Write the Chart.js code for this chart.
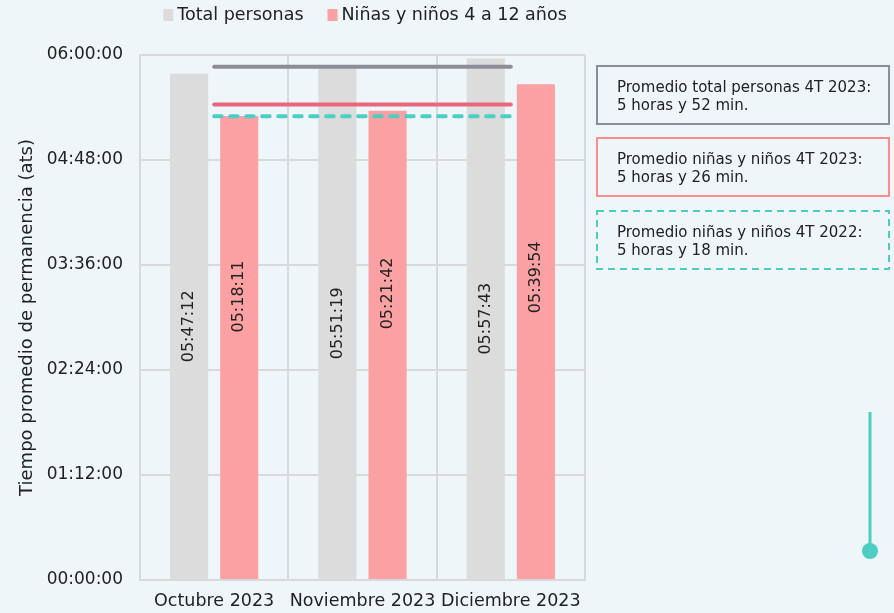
<!DOCTYPE html>
<html>
<head>
<meta charset="utf-8">
<script src="https://cdn.jsdelivr.net/npm/chart.js@4.4.1/dist/chart.umd.min.js"></script>
<style>
html, body { margin: 0; padding: 0; background: #eef6f9; }
#wrap { position: relative; width: 894px; height: 613px; }
</style>
</head>
<body>
<div id="wrap"><canvas id="chart_canvas" width="894" height="613"></canvas></div>
<script>
// ============================================================
// Data
// ============================================================
var categories = ["Octubre 2023", "Noviembre 2023", "Diciembre 2023"];
var seriesNames = ["Total personas", "Niñas y niños 4 a 12 años"];
var totalPersonas = ["05:47:12", "05:51:19", "05:57:43"];
var ninasNinos = ["05:18:11", "05:21:42", "05:39:54"];
var avgNames = ["Promedio total personas 4T 2023:", "Promedio niñas y niños 4T 2023:", "Promedio niñas y niños 4T 2022:"];
var avgValues = ["05:52:00", "05:26:00", "05:18:00"];
var avgTexts = ["5 horas y 52 min.", "5 horas y 26 min.", "5 horas y 18 min."];
var yTickLabels = ["00:00:00", "01:12:00", "02:24:00", "03:36:00", "04:48:00", "06:00:00"];

var FONT = "'DejaVu Sans', sans-serif";
var TEXT = "#222222";
var GRID = "#d9d9d9";
var cGray = "#dcdcdc", cPink = "#fba1a4";
var lineColors = ["#8d8d97", "#e8677a", "#4ecdc2"];
var boxColors = ["#8d8d97", "#ff8c8c", "#4ecdc2"];

function toSec(s) {
	var p = s.split(":");
	return (+p[0]) * 3600 + (+p[1]) * 60 + (+p[2]);
}
function fmt(v) {
	var h = Math.floor(v / 3600), m = Math.floor((v % 3600) / 60), s = Math.round(v % 60);
	function z(n) { return (n < 10 ? "0" : "") + n; }
	return z(h) + ":" + z(m) + ":" + z(s);
}
function flat(str) {
	return categories.map(function () { return toSec(str); });
}

// ============================================================
// Decorations: background, bar labels, legend, note boxes
// ============================================================
var deco = {
	id: "deco",
	beforeDraw: function (chart) {
		var ctx = chart.ctx;
		ctx.save();
		ctx.fillStyle = "#eef6f9";
		ctx.fillRect(0, 0, chart.width, chart.height);
		ctx.restore();
	},
	afterDatasetsDraw: function (chart) {
		var ctx = chart.ctx;
		ctx.save();
		ctx.font = "16px " + FONT;
		ctx.fillStyle = TEXT;
		ctx.textAlign = "center";
		ctx.textBaseline = "middle";
		[0, 1].forEach(function (d) {
			var meta = chart.getDatasetMeta(d);
			var src = d === 0 ? totalPersonas : ninasNinos;
			meta.data.forEach(function (el, i) {
				var frac = d === 0 ? 0.5 : 0.39;
				var cy = el.y + (el.base - el.y) * frac;
				ctx.save();
				ctx.translate(el.x, cy);
				ctx.rotate(-Math.PI / 2);
				ctx.fillText(src[i], 0, 0);
				ctx.restore();
			});
		});
		ctx.restore();
	},
	afterDraw: function (chart) {
		var ctx = chart.ctx;
		ctx.save();
		// legend
		ctx.font = "17.5px " + FONT;
		ctx.textBaseline = "middle";
		ctx.textAlign = "left";
		var w1 = ctx.measureText(seriesNames[0]).width;
		var w2 = ctx.measureText(seriesNames[1]).width;
		var total = 10 + 4 + w1 + 24 + 10 + 4 + w2;
		var x = 365 - total / 2, y = 15;
		ctx.fillStyle = cGray;
		ctx.fillRect(x, y - 6, 10, 12);
		ctx.fillStyle = TEXT;
		ctx.fillText(seriesNames[0], x + 14, y);
		x += 14 + w1 + 24;
		ctx.fillStyle = cPink;
		ctx.fillRect(x, y - 6, 10, 12);
		ctx.fillStyle = TEXT;
		ctx.fillText(seriesNames[1], x + 14, y);

		// note boxes
		var tops = [66, 138, 211];
		ctx.font = "15px " + FONT;
		ctx.textBaseline = "alphabetic";
		for (var i = 0; i < avgNames.length; i++) {
			ctx.strokeStyle = boxColors[i];
			ctx.lineWidth = 2;
			ctx.setLineDash(i === 2 ? [7, 5] : []);
			ctx.strokeRect(597, tops[i], 292, 58);
			ctx.setLineDash([]);
			ctx.fillStyle = TEXT;
			ctx.fillText(avgNames[i], 617, tops[i] + 26);
			ctx.fillText(avgTexts[i], 617, tops[i] + 44);
		}

		// teal marker at bottom right
		ctx.strokeStyle = "#4ecdc2";
		ctx.lineWidth = 3;
		ctx.beginPath();
		ctx.moveTo(870, 412);
		ctx.lineTo(870, 550);
		ctx.stroke();
		ctx.fillStyle = "#4ecdc2";
		ctx.beginPath();
		ctx.arc(870, 551, 8, 0, Math.PI * 2);
		ctx.fill();
		ctx.restore();
	}
};

// ============================================================
// Chart
// ============================================================
var lineDs = avgValues.map(function (v, i) {
	return {
		type: "line",
		label: avgNames[i],
		data: flat(v),
		borderColor: lineColors[i],
		borderWidth: 4,
		borderDash: i === 2 ? [7.5, 8.5] : [],
		borderCapStyle: "round",
		pointRadius: 0,
		fill: false,
		order: 0
	};
});

new Chart(document.getElementById("chart_canvas"), {
	type: "bar",
	data: {
		labels: categories,
		datasets: [{
			label: seriesNames[0],
			data: totalPersonas.map(toSec),
			backgroundColor: cGray,
			categoryPercentage: 0.676,
			barPercentage: 0.76,
			order: 1
		}, {
			label: seriesNames[1],
			data: ninasNinos.map(toSec),
			backgroundColor: cPink,
			categoryPercentage: 0.676,
			barPercentage: 0.76,
			order: 1
		}].concat(lineDs)
	},
	options: {
		responsive: false,
		animation: false,
		devicePixelRatio: 1,
		layout: { padding: { top: 55, right: 309, left: 0, bottom: 0 } },
		plugins: {
			legend: { display: false },
			tooltip: { enabled: false }
		},
		scales: {
			x: {
				grid: { color: GRID, lineWidth: 2, drawTicks: false, offset: true },
				border: { color: GRID, width: 2 },
				ticks: { color: TEXT, font: { family: FONT, size: 17.5 }, padding: 11, maxRotation: 0, autoSkip: false },
				afterFit: function (s) { s.height = 33; }
			},
			y: {
				min: 0,
				max: toSec(yTickLabels[yTickLabels.length - 1]),
				grid: { color: GRID, lineWidth: 2, drawTicks: false },
				border: { color: GRID, width: 2 },
				ticks: {
					stepSize: toSec(yTickLabels[1]),
					color: TEXT,
					font: { family: FONT, size: 17 },
					padding: 17,
					callback: function (v) { return fmt(v); }
				},
				title: {
					display: true,
					text: "Tiempo promedio de permanencia (ats)",
					color: TEXT,
					font: { family: FONT, size: 18 },
					padding: { top: 17, bottom: 0 }
				},
				afterFit: function (s) { s.width = 140; }
			}
		}
	},
	plugins: [deco]
});
</script>
</body>
</html>
